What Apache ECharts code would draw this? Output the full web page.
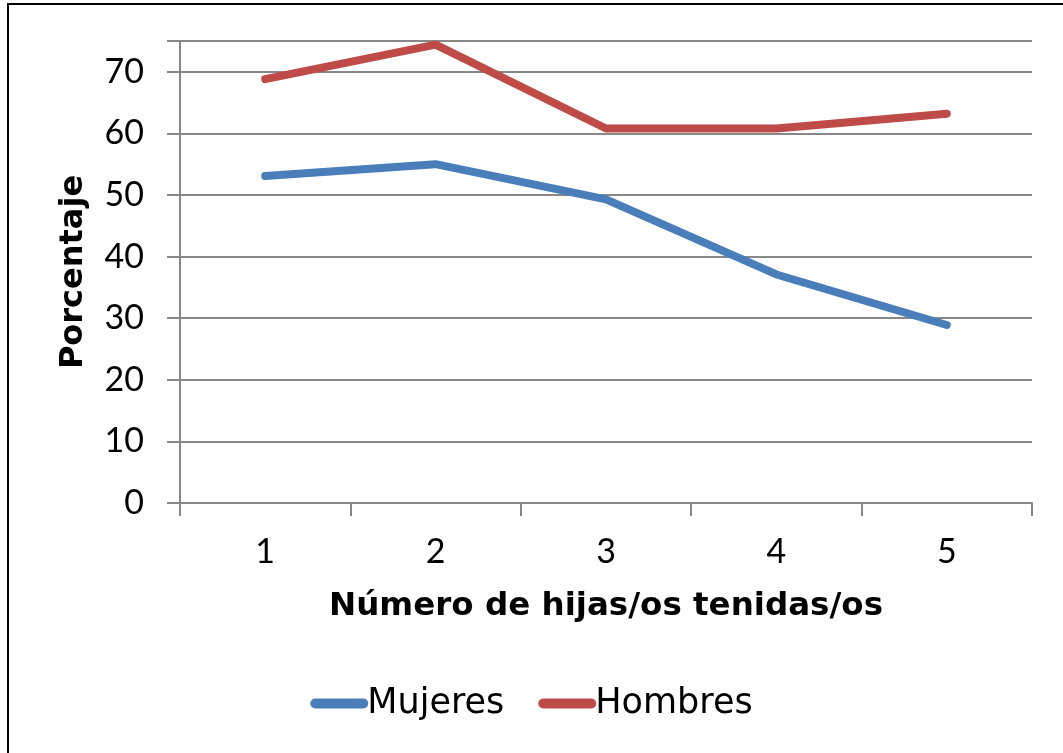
<!DOCTYPE html>
<html>
<head>
<meta charset="utf-8">
<script src="https://cdn.jsdelivr.net/npm/echarts@6/dist/echarts.min.js"></script>
<style>
  html, body { margin: 0; padding: 0; background: #fff; }
  #main { width: 1063px; height: 753px; }
</style>
</head>
<body>
<div id="main"></div>
<script>
const categories = ["1", "2", "3", "4", "5"];
const mujeres = [53.1, 55.0, 49.3, 37.1, 28.9];
const hombres = [68.8, 74.4, 60.8, 60.8, 63.2];
const yTicks = [0, 10, 20, 30, 40, 50, 60, 70];

const font = "'Century Gothic', Lato, 'DejaVu Sans', sans-serif";
const wideFont = "'Century Gothic', 'DejaVu Sans', sans-serif";

const chart = echarts.init(document.getElementById("main"));
const option = {
  backgroundColor: "#fff",
  animation: false,
  graphic: [
    {
      type: "rect",
      shape: { x: 8, y: 4, width: 1100, height: 800 },
      style: { fill: "none", stroke: "#000", lineWidth: 2 },
      silent: true
    }
  ],
  grid: { left: 180, right: 31, top: 41, bottom: 250 },
  legend: {
    bottom: 27,
    left: "center",
    itemWidth: 58,
    itemHeight: 10,
    itemGap: 34,
    icon: "path://M5 0h48a5 5 0 0 1 0 10h-48a5 5 0 0 1 0 -10z",
    textStyle: { fontFamily: wideFont, fontSize: 35, color: "#000", padding: [0, 0, 0, -6] },
    data: ["Mujeres", "Hombres"]
  },
  xAxis: {
    type: "category",
    data: categories,
    boundaryGap: true,
    name: "Número de hijas/os tenidas/os",
    nameLocation: "middle",
    nameGap: 87,
    nameTextStyle: { fontFamily: wideFont, fontSize: 32.5, fontWeight: "bold", color: "#000" },
    axisLine: { lineStyle: { color: "#888", width: 2 } },
    axisTick: { show: true, length: 13, lineStyle: { color: "#888", width: 2 } },
    axisLabel: { fontFamily: font, fontSize: 34, color: "#000", margin: 32 }
  },
  yAxis: {
    type: "value",
    min: 0,
    max: 75,
    interval: 10,
    name: "Porcentaje",
    nameLocation: "middle",
    nameGap: 90,
    nameTextStyle: { fontFamily: wideFont, fontSize: 32, fontWeight: "bold", color: "#000" },
    axisLine: { show: true, lineStyle: { color: "#888", width: 2 } },
    axisTick: { show: true, length: 13, lineStyle: { color: "#888", width: 2 } },
    axisLabel: {
      fontFamily: font,
      fontSize: 34,
      color: "#000",
      margin: 36,
      formatter: v => (yTicks.includes(v) ? String(v) : "")
    },
    splitLine: { show: true, lineStyle: { color: "#888", width: 2 } }
  },
  series: [
    {
      name: "Mujeres",
      type: "line",
      data: mujeres,
      symbol: "none",
      color: "#4A7EBB",
      lineStyle: { width: 8, cap: "round", join: "round" }
    },
    {
      name: "Hombres",
      type: "line",
      data: hombres,
      symbol: "none",
      color: "#BE4B48",
      lineStyle: { width: 8, cap: "round", join: "round" }
    }
  ]
};
chart.setOption(option);
</script>
</body>
</html>
